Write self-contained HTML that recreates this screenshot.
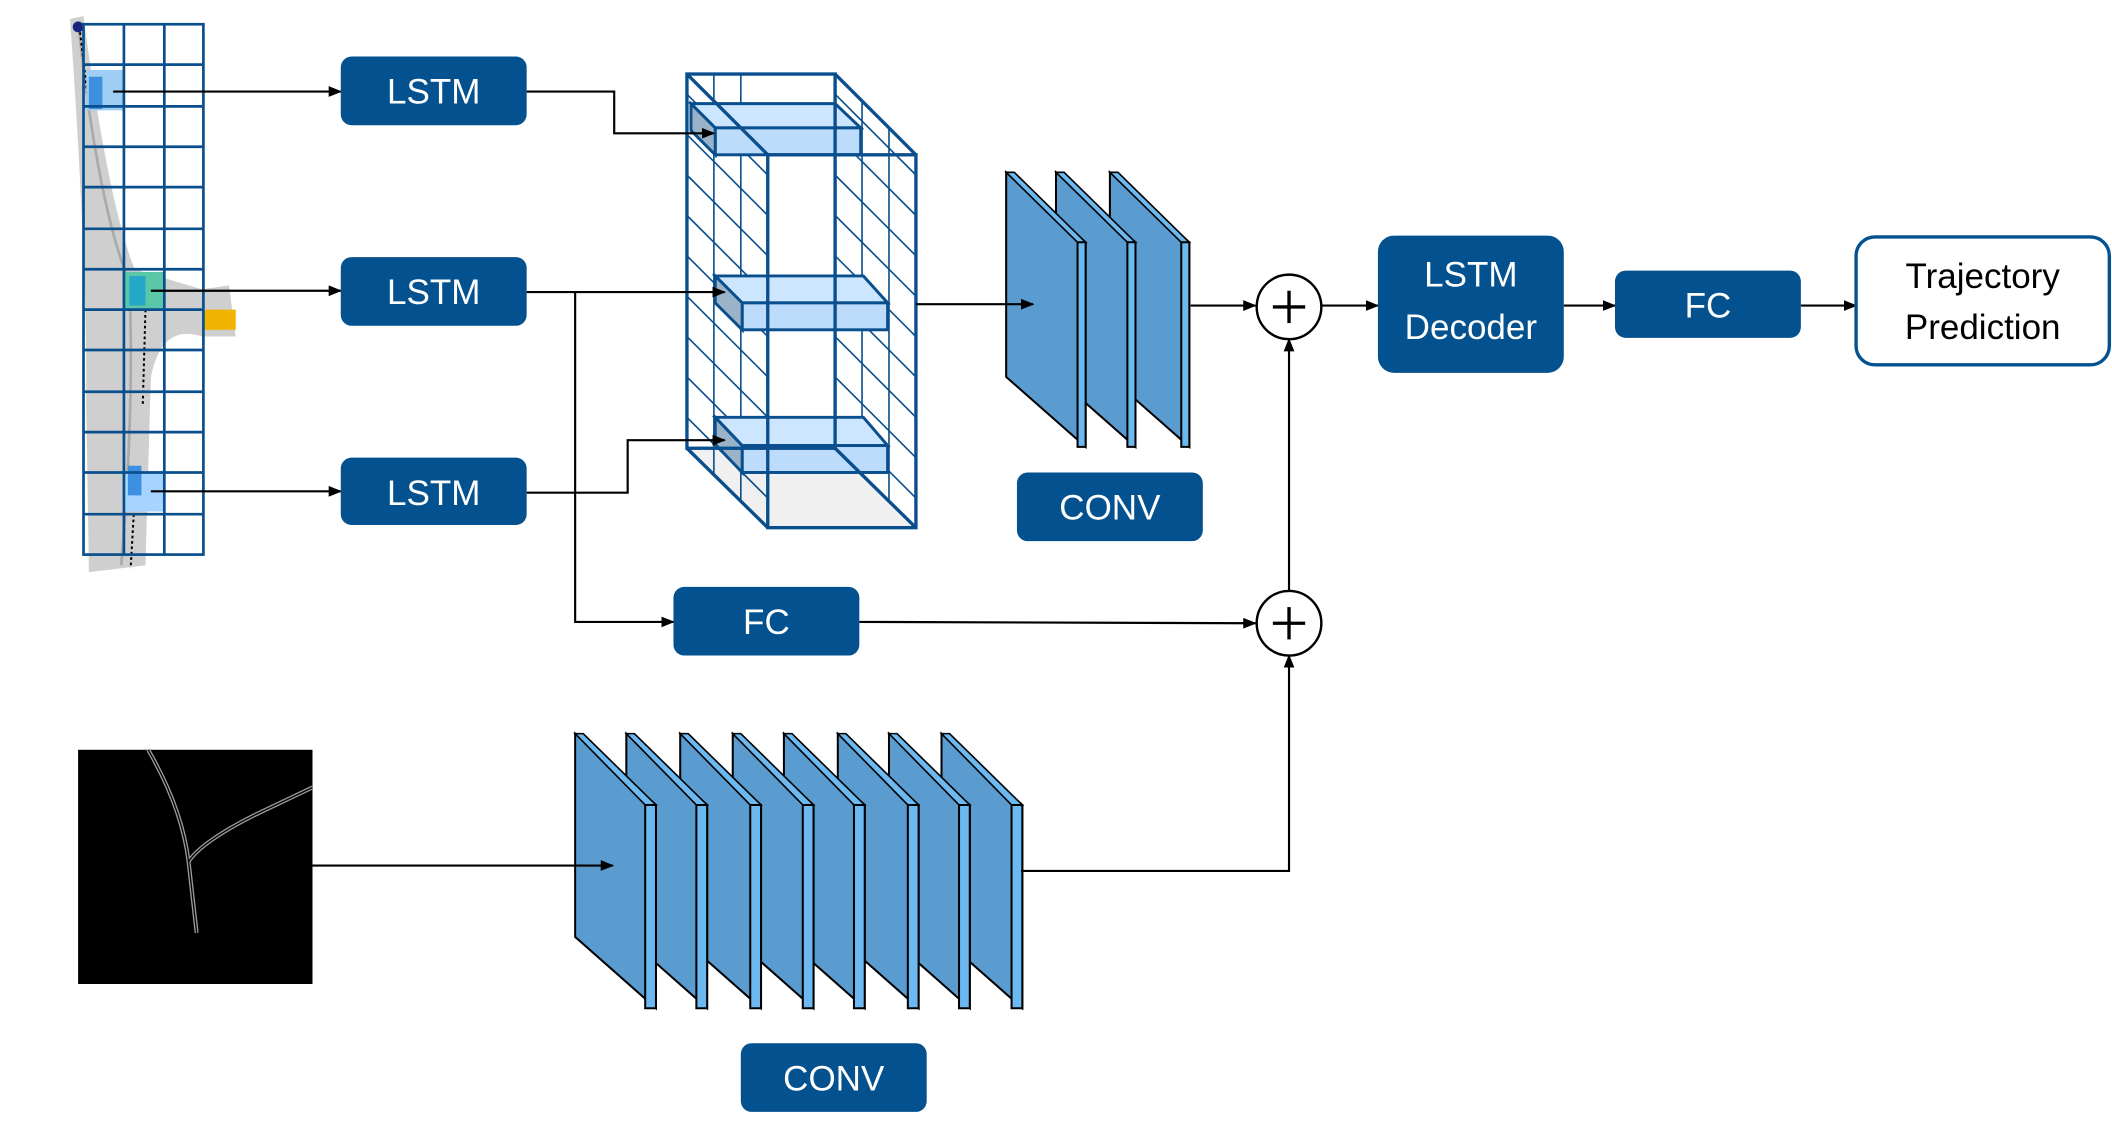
<!DOCTYPE html>
<html><head><meta charset="utf-8"><style>
html,body{margin:0;padding:0;background:#fff;}
svg{display:block;}
text{font-family:"Liberation Sans",Arial,sans-serif;}
</style></head><body>
<svg width="2112" height="1124" viewBox="0 0 1568 835" preserveAspectRatio="none" xmlns="http://www.w3.org/2000/svg">
<defs>
<marker id="ah" markerWidth="10" markerHeight="8" refX="9" refY="4" orient="auto" markerUnits="userSpaceOnUse">
<path d="M0,0 L10,4 L0,8 z" fill="#000"/></marker>
<g id="t">
<polygon points="747,128 806,180 806,332 747,280" fill="#5a9bd0" stroke="#000" stroke-width="1.5"/>
<polygon points="747,128 753,128 806,180 800,180" fill="#6cb8f0" stroke="#000" stroke-width="1.2"/>
<polygon points="800,180 806,180 806,332 800,332" fill="#6cb8f0" stroke="#000" stroke-width="1.5"/>
</g>
<g id="s">
<polygon points="427,545 487,598 487,749 427,696" fill="#5a9bd0" stroke="#000" stroke-width="1.5"/>
<polygon points="427,545 433,545 487,598 479,598" fill="#6cb8f0" stroke="#000" stroke-width="1.2"/>
<polygon points="479,598 487,598 487,749 479,749" fill="#6cb8f0" stroke="#000" stroke-width="1.5"/>
</g>
</defs>
<!-- road image -->
<g>
<path d="M52,14 L62,12 Q80,150 100,200 L150,215 L170,212 L175,250 L150,250 Q120,240 112,280 L108,420 L66,425 L64,300 Q65,200 52,14 z" fill="#cfcfcf"/>
<path d="M58,16 Q72,150 96,210 Q100,300 90,420" stroke="#aaa" stroke-width="2" fill="none"/>
<path d="M59,20 L66,80 M108,230 L106,300 M100,370 L97,422" stroke="#000" stroke-width="1.5" stroke-dasharray="2,2" fill="none"/>
<circle cx="58" cy="20" r="4" fill="#1a237e"/>
<rect x="64" y="52" width="28" height="30" fill="#9fcdf3"/>
<rect x="66" y="57" width="10" height="24" fill="#3d8fe0"/>
<rect x="92" y="202" width="30" height="28" fill="#5cc7a8"/>
<rect x="96" y="205" width="12" height="22" fill="#25a8c8"/>
<rect x="150" y="230" width="25" height="15" fill="#f0b400"/>
<rect x="92" y="350" width="30" height="30" fill="#a6d3ff"/>
<rect x="95" y="346" width="10" height="22" fill="#3d8fe0"/>
</g>
<g stroke="#0a4f8d" stroke-width="2" fill="none">
<rect x="62" y="18" width="89" height="394"/>
<line x1="92" y1="18" x2="92" y2="412"/><line x1="122" y1="18" x2="122" y2="412"/>
<line x1="62" y1="48" x2="151" y2="48"/><line x1="62" y1="79" x2="151" y2="79"/><line x1="62" y1="109" x2="151" y2="109"/>
<line x1="62" y1="139" x2="151" y2="139"/><line x1="62" y1="170" x2="151" y2="170"/><line x1="62" y1="200" x2="151" y2="200"/>
<line x1="62" y1="230" x2="151" y2="230"/><line x1="62" y1="260" x2="151" y2="260"/><line x1="62" y1="291" x2="151" y2="291"/>
<line x1="62" y1="321" x2="151" y2="321"/><line x1="62" y1="351" x2="151" y2="351"/><line x1="62" y1="382" x2="151" y2="382"/>
</g>
<!-- 3D box -->
<polygon points="510,333 620,333 680,392 570,392" fill="#f0f0f0"/>
<g stroke="#0a4f8d" stroke-width="1.2" fill="none">
<line x1="530" y1="55" x2="530" y2="353"/><line x1="550" y1="55" x2="550" y2="373"/>
<line x1="640" y1="75" x2="640" y2="353"/><line x1="660" y1="95" x2="660" y2="373"/>
<path d="M510,100 L570,160 M510,130 L570,190 M510,160 L570,220 M510,190 L570,250 M510,220 L570,280 M510,250 L570,310 M510,280 L570,340 M510,310 L570,370 M510,70 L570,130 M620,100 L680,160 M620,130 L680,190 M620,160 L680,220 M620,190 L680,250 M620,220 L680,280 M620,250 L680,310 M620,280 L680,340 M620,310 L680,370 M620,70 L680,130"/>
</g>
<g stroke="#0a4f8d" stroke-width="2.2">
<polygon points="513,77 620,77 639,95 531,95" fill="#cde6ff"/>
<rect x="531" y="95" width="108" height="20" fill="#bddcfb"/>
<polygon points="513,77 531,95 531,115 513,97" fill="#9bb3c9"/>
<polygon points="531,205 641,205 659,225 551,225" fill="#cde6ff"/>
<rect x="551" y="225" width="108" height="20" fill="#bddcfb"/>
<polygon points="531,205 551,225 551,245 531,225" fill="#9bb3c9"/>
<polygon points="531,310 641,310 659,331 551,331" fill="#cde6ff"/>
<rect x="551" y="331" width="108" height="20" fill="#bddcfb"/>
<polygon points="531,310 551,331 551,351 531,330" fill="#9bb3c9"/>
</g>
<g stroke="#0a4f8d" stroke-width="2.5" fill="none">
<rect x="510" y="55" width="110" height="278"/>
<rect x="570" y="115" width="110" height="277"/>
<line x1="510" y1="55" x2="570" y2="115"/><line x1="620" y1="55" x2="680" y2="115"/>
<line x1="510" y1="333" x2="570" y2="392"/><line x1="620" y1="333" x2="680" y2="392"/>
</g>
<!-- top conv (back to front) -->
<use href="#t" x="77"/><use href="#t" x="37"/><use href="#t"/>
<!-- bottom conv (back to front) -->
<use href="#s" x="272"/><use href="#s" x="233"/><use href="#s" x="195"/><use href="#s" x="155"/><use href="#s" x="117"/><use href="#s" x="78"/><use href="#s" x="38"/><use href="#s"/>
<!-- arrows -->
<g stroke="#000" stroke-width="1.6" fill="none">
<line x1="84" y1="68" x2="253" y2="68" marker-end="url(#ah)"/>
<line x1="112" y1="216" x2="253" y2="216" marker-end="url(#ah)"/>
<line x1="112" y1="365" x2="253" y2="365" marker-end="url(#ah)"/>
<polyline points="391,68 456,68 456,99 530,99" marker-end="url(#ah)"/>
<polyline points="391,217 538,217" marker-end="url(#ah)"/>
<polyline points="391,366 466,366 466,327 538,327" marker-end="url(#ah)"/>
<polyline points="427,217 427,462 500,462" marker-end="url(#ah)"/>
<line x1="638" y1="462" x2="932" y2="463" marker-end="url(#ah)"/>
<line x1="680" y1="226" x2="767" y2="226" marker-end="url(#ah)"/>
<line x1="884" y1="227" x2="932" y2="227" marker-end="url(#ah)"/>
<line x1="957" y1="439" x2="957" y2="252" marker-end="url(#ah)"/>
<line x1="981" y1="227" x2="1023" y2="227" marker-end="url(#ah)"/>
<line x1="1161" y1="227" x2="1199" y2="227" marker-end="url(#ah)"/>
<line x1="1337" y1="227" x2="1378" y2="227" marker-end="url(#ah)"/>
<line x1="232" y1="643" x2="455" y2="643" marker-end="url(#ah)"/>
<polyline points="758,647 957,647 957,487" marker-end="url(#ah)"/>
</g>
<!-- map image -->
<rect x="58" y="557" width="174" height="174" fill="#000"/>
<g stroke="#9a9a9a" stroke-width="3" fill="none">
<path d="M110,557 Q135,600 140,640 L146,693"/>
<path d="M140,640 Q150,625 190,605 L232,585"/>
</g>
<g stroke="#000" stroke-width="1" fill="none">
<path d="M110,557 Q135,600 140,640 L146,693"/>
<path d="M140,640 Q150,625 190,605 L232,585"/>
</g>
<!-- plus circles -->
<g stroke="#000" stroke-width="1.8" fill="#fff">
<circle cx="957" cy="228" r="24"/><circle cx="957" cy="463" r="24"/>
</g>
<g stroke="#000" stroke-width="2.5">
<line x1="945" y1="228" x2="969" y2="228"/><line x1="957" y1="216" x2="957" y2="240"/>
<line x1="945" y1="463" x2="969" y2="463"/><line x1="957" y1="451" x2="957" y2="475"/>
</g>
<!-- boxes -->
<g fill="#03518f">
<rect x="253" y="42" width="138" height="51" rx="8"/>
<rect x="253" y="191" width="138" height="51" rx="8"/>
<rect x="253" y="340" width="138" height="50" rx="8"/>
<rect x="500" y="436" width="138" height="51" rx="8"/>
<rect x="755" y="351" width="138" height="51" rx="8"/>
<rect x="550" y="775" width="138" height="51" rx="8"/>
<rect x="1023" y="175" width="138" height="102" rx="12"/>
<rect x="1199" y="201" width="138" height="50" rx="8"/>
</g>
<rect x="1378" y="176" width="188" height="95" rx="14" fill="#fff" stroke="#03518f" stroke-width="2.5"/>
<g fill="#fff" font-size="26" text-anchor="middle">
<text x="322" y="77">LSTM</text>
<text x="322" y="226">LSTM</text>
<text x="322" y="375">LSTM</text>
<text x="569" y="471">FC</text>
<text x="824" y="386">CONV</text>
<text x="619" y="810">CONV</text>
<text x="1092" y="213">LSTM</text>
<text x="1092" y="252">Decoder</text>
<text x="1268" y="236">FC</text>
</g>
<g fill="#000" font-size="26" text-anchor="middle">
<text x="1472" y="214">Trajectory</text>
<text x="1472" y="252">Prediction</text>
</g>
</svg>
</body></html>
